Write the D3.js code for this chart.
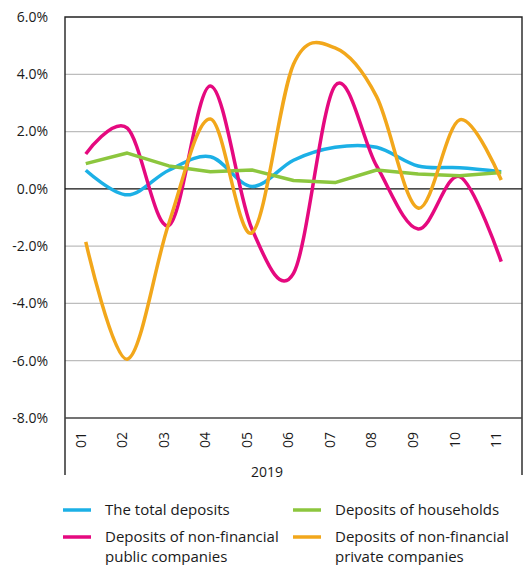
<!DOCTYPE html>
<html lang="en">
<head>
  <meta charset="UTF-8" />
  <title>Deposits growth 2019</title>
  <style>
    body { margin: 0; background: #fff; }
    svg text { font-family: "Open Sans", "Noto Sans", sans-serif; fill: #1a1a1a; }
  </style>
</head>
<body>
  <svg id="chart" width="527" height="565"></svg>

  <script src="https://d3js.org/d3.v7.min.js"></script>
  <script>
    const months = ["01", "02", "03", "04", "05", "06", "07", "08", "09", "10", "11"];
    const yTicks = [6, 4, 2, 0, -2, -4, -6, -8];
    const totalDeposits = [0.65, -0.21, 0.65, 1.12, 0.08, 1.0, 1.45, 1.45, 0.8, 0.74, 0.6];
    const publicCompanies = [1.22, 2.12, -1.28, 3.59, -1.4, -2.95, 3.6, 0.8, -1.4, 0.43, -2.54];
    const households = [0.88, 1.25, 0.8, 0.6, 0.66, 0.29, 0.22, 0.66, 0.52, 0.46, 0.57];
    const privateCompanies = [-1.85, -5.95, -1.2, 2.44, -1.53, 4.35, 4.92, 3.22, -0.67, 2.41, 0.31];

    const series = [
      { name: "The total deposits", values: totalDeposits, color: "#1cb0e6", curve: d3.curveCardinal.tension(0) },
      { name: "Deposits of non-financial public companies", values: publicCompanies, color: "#e5097f", curve: d3.curveCardinal.tension(0) },
      { name: "Deposits of households", values: households, color: "#8cc63e", curve: d3.curveLinear },
      { name: "Deposits of non-financial private companies", values: privateCompanies, color: "#f2a71b", curve: d3.curveCardinal.tension(0) }
    ];

    const plot = { left: 65, right: 522, top: 17, bottom: 418 };
    const svg = d3.select("#chart");

    const x = d3.scalePoint()
      .domain(months)
      .range([plot.left, plot.right])
      .padding(0.5);

    const y = d3.scaleLinear()
      .domain([-8, 6])
      .range([plot.bottom, plot.top]);

    // gridlines
    svg.append("g")
      .selectAll("line")
      .data(yTicks.filter(d => d !== 0 && d !== 6 && d !== -8))
      .join("line")
      .attr("x1", plot.left).attr("x2", plot.right)
      .attr("y1", d => y(d)).attr("y2", d => y(d))
      .attr("stroke", "#bdbdbd")
      .attr("stroke-width", 1.2);

    // y tick labels
    svg.append("g")
      .selectAll("text")
      .data(yTicks)
      .join("text")
      .attr("x", 48)
      .attr("y", d => y(d))
      .attr("dy", "0.35em")
      .attr("text-anchor", "end")
      .style("font-size", "14px")
      .text(d => d.toFixed(1) + "%");

    // frame
    svg.append("path")
      .attr("d", `M${plot.left},475V${plot.top}H${plot.right}V475`)
      .attr("fill", "none")
      .attr("stroke", "#222")
      .attr("stroke-width", 1.4);
    svg.append("line")
      .attr("x1", plot.left).attr("x2", plot.right)
      .attr("y1", plot.bottom).attr("y2", plot.bottom)
      .attr("stroke", "#444")
      .attr("stroke-width", 1.4);
    svg.append("line")
      .attr("x1", plot.left).attr("x2", plot.right)
      .attr("y1", y(0)).attr("y2", y(0))
      .attr("stroke", "#111")
      .attr("stroke-width", 1.1);

    // x tick labels
    svg.append("g")
      .selectAll("text")
      .data(months)
      .join("text")
      .attr("transform", d => `translate(${x(d) - 5},440) rotate(-90)`)
      .attr("dy", "0.35em")
      .attr("text-anchor", "middle")
      .style("font-size", "14px")
      .text(d => d);

    svg.append("text")
      .attr("x", 267)
      .attr("y", 472)
      .attr("dy", "0.35em")
      .attr("text-anchor", "middle")
      .style("font-size", "14px")
      .text("2019");

    // lines
    series.forEach(s => {
      const line = d3.line()
        .x((d, i) => x(months[i]))
        .y(d => y(d))
        .curve(s.curve);
      svg.append("path")
        .datum(s.values)
        .attr("d", line)
        .attr("fill", "none")
        .attr("stroke", s.color)
        .attr("stroke-width", 3.5)
        .attr("stroke-linejoin", "round");
    });

    // legend
    const legendItems = [
      { s: series[0], x: 63, y: 510, lines: ["The total deposits"] },
      { s: series[2], x: 293, y: 510, lines: ["Deposits of households"] },
      { s: series[1], x: 63, y: 537, lines: ["Deposits of non-financial", "public companies"] },
      { s: series[3], x: 293, y: 537, lines: ["Deposits of non-financial", "private companies"] }
    ];
    const legend = svg.append("g");
    legendItems.forEach(item => {
      legend.append("line")
        .attr("x1", item.x).attr("x2", item.x + 28)
        .attr("y1", item.y).attr("y2", item.y)
        .attr("stroke", item.s.color)
        .attr("stroke-width", 3.5);
      legend.append("text")
        .attr("x", item.x + 42)
        .attr("y", item.y)
        .style("font-size", "15px")
        .selectAll("tspan")
        .data(item.lines)
        .join("tspan")
        .attr("x", item.x + 42)
        .attr("dy", (d, i) => i === 0 ? "0.35em" : "1.3em")
        .text(d => d);
    });
  </script>
</body>
</html>
